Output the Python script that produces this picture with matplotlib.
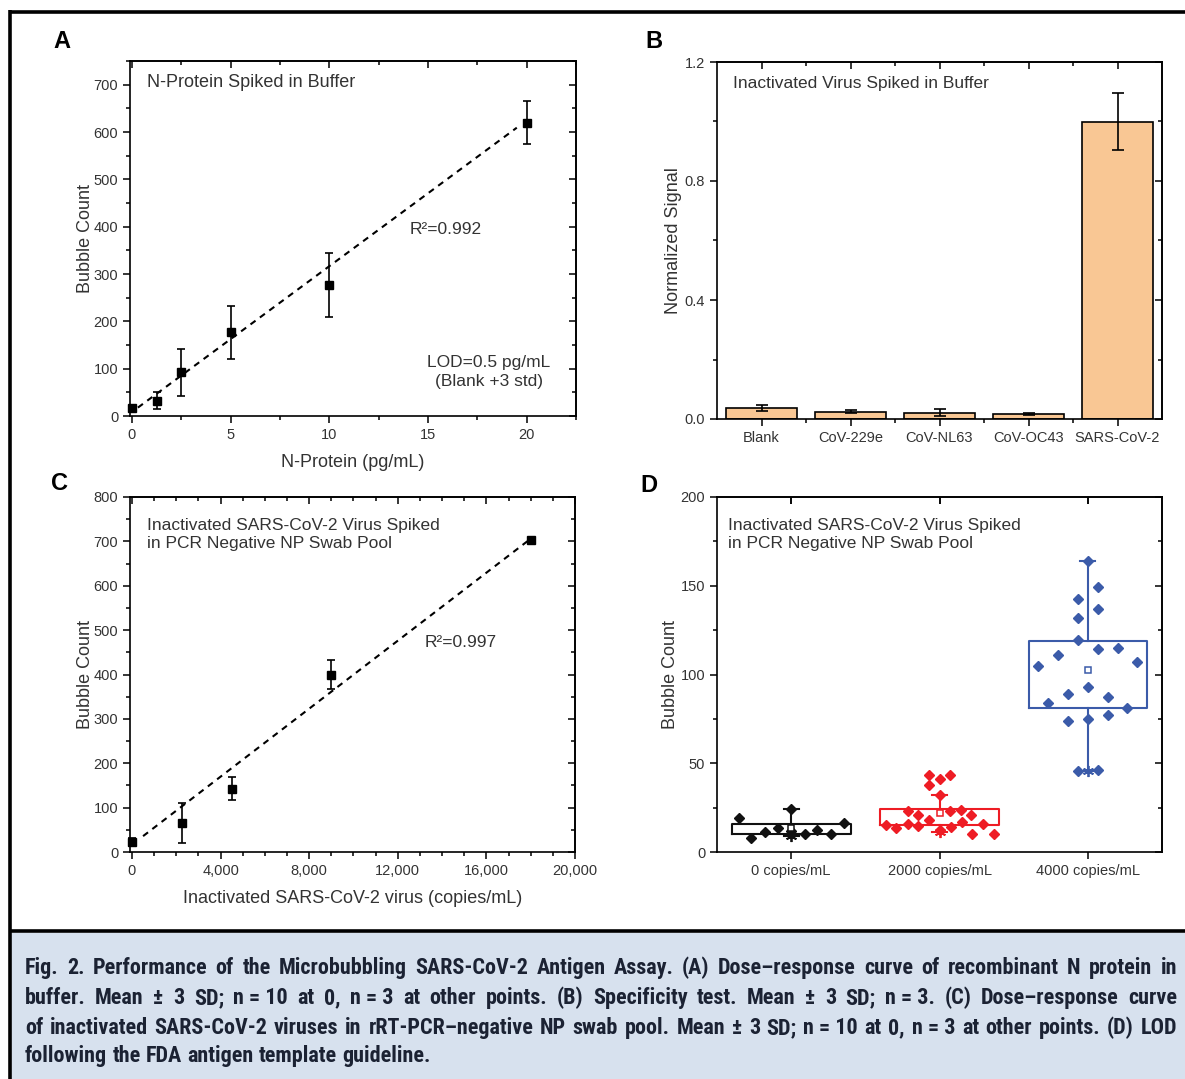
import matplotlib
matplotlib.use('Agg')
import matplotlib.pyplot as plt
import numpy as np
from matplotlib import font_manager
from matplotlib.ticker import MultipleLocator, FixedLocator, FuncFormatter
from matplotlib.patches import Rectangle
from matplotlib.lines import Line2D

W, H = 1185, 1079

# ---- panel A: N-protein in buffer
a_conc = [0, 1.25, 2.5, 5, 10, 20]
a_count = [16, 32.5, 92, 177, 277, 620]
a_err = [5, 18.5, 49.5, 56, 68, 44.5]
a_fit = [30.8, 8.5]          # slope, intercept of the dashed line

# ---- panel B: specificity
b_names = ['Blank', 'CoV-229e', 'CoV-NL63', 'CoV-OC43', 'SARS-CoV-2']
b_signal = [0.038, 0.025, 0.021, 0.017, 1.0]
b_err = [0.010, 0.005, 0.012, 0.003, 0.095]

# ---- panel C: virus in NP swab pool
c_conc = [0, 2250, 4500, 9000, 18000]
c_count = [23, 66, 143, 400, 702]
c_err = [9, 45, 25, 33, 6]
c_fit = [0.0383, 16.6]

# ---- panel D: LOD replicates
d_groups = ['0 copies/mL', '2000 copies/mL', '4000 copies/mL']
d_colors = ['#111111', '#ee1c24', '#3b5ba9']
d_values = [
    [19.4, 8.1, 11.3, 13.5, 24.4, 11.7, 10.0, 12.2, 10.0, 16.6],
    [43.2, 41.3, 43.2, 37.9, 31.9, 23.1, 21.0, 18.1, 23.0, 23.9, 21.0,
     15.3, 13.5, 15.8, 14.6, 12.2, 13.9, 16.7, 15.8, 10.1, 10.0],
    [164, 149.3, 142.8, 137.1, 131.8, 119.3, 114.2, 114.9, 110.8, 104.8, 107.1,
     93, 88.8, 84.2, 87.3, 81.3, 73.8, 75.1, 77.4, 45.5, 46.0],
]
d_jitter = [
    [-0.355, -0.27, -0.175, -0.09, 0, 0, 0.09, 0.175, 0.27, 0.355],
    [-0.07, 0, 0.07, -0.07, 0, -0.215, -0.145, -0.07, 0.07, 0.145, 0.215,
     -0.36, -0.29, -0.215, -0.145, 0, 0.075, 0.15, 0.29, 0.22, 0.365],
    [0, 0.068, -0.068, 0.068, -0.068, -0.068, 0.068, 0.2, -0.2, -0.333, 0.333,
     0, -0.133, -0.267, 0.133, 0.267, -0.133, 0, 0.133, -0.068, 0.068],
]
d_q1 = [10, 15, 81.3]
d_q3 = [16, 24, 119]
d_mean = [13.7, 22.2, 102.7]
d_wlo = [8.8, 11.3, 45.7]
d_whi = [24.4, 31.9, 164]

caption = [
    "Fig. 2. Performance of the Microbubbling SARS-CoV-2 Antigen Assay. (A) Dose\u2013response curve of recombinant N protein in",
    "buffer. Mean \u00b1 3 SD; n\u00a0=\u00a010 at 0, n\u00a0=\u00a03 at other points. (B) Specificity test. Mean \u00b1 3 SD; n\u00a0=\u00a03. (C) Dose\u2013response curve",
    "of inactivated SARS-CoV-2 viruses in rRT-PCR\u2013negative NP swab pool. Mean \u00b1 3 SD; n\u00a0=\u00a010 at 0, n\u00a0=\u00a03 at other points. (D) LOD",
    "following the FDA antigen template guideline.",
]

plt.rcParams['font.family'] = ['Liberation Sans', 'DejaVu Sans']
TXT = '#333333'


def first_font(names):
    for n in names:
        try:
            font_manager.findfont(font_manager.FontProperties(family=n), fallback_to_default=False)
            return n
        except Exception:
            pass
    return 'DejaVu Sans'


def box(x0, y0, x1, y1):
    return [x0 / W, 1 - y1 / H, (x1 - x0) / W, (y1 - y0) / H]


def fx(x):
    return x / W


def fy(y):
    return 1 - y / H


def style(ax, xmaj, xmin, ymaj, ymin):
    for s in ax.spines.values():
        s.set_linewidth(1.2)
    ax.xaxis.set_major_locator(xmaj)
    ax.yaxis.set_major_locator(ymaj)
    if xmin is not None:
        ax.xaxis.set_minor_locator(xmin)
    if ymin is not None:
        ax.yaxis.set_minor_locator(ymin)
    ax.tick_params(which='both', direction='out', labelsize=10.5, labelcolor=TXT, width=1.1)
    ax.tick_params(which='major', length=5)
    ax.tick_params(which='minor', length=3)
    # mirrored ticks pointing inward on top and right
    top = ax.secondary_xaxis('top')
    top.xaxis.set_major_locator(xmaj)
    if xmin is not None:
        top.xaxis.set_minor_locator(xmin)
    top.tick_params(which='both', direction='in', labeltop=False, width=1.1)
    top.tick_params(which='major', length=5)
    top.tick_params(which='minor', length=3)
    top.spines['top'].set_linewidth(1.2)
    right = ax.secondary_yaxis('right')
    right.yaxis.set_major_locator(ymaj)
    if ymin is not None:
        right.yaxis.set_minor_locator(ymin)
    right.tick_params(which='both', direction='in', labelright=False, width=1.1)
    right.tick_params(which='major', length=5)
    right.tick_params(which='minor', length=3)
    right.spines['right'].set_linewidth(1.2)


fig = plt.figure(figsize=(W / 100, H / 100), dpi=100)

# frame and caption background
fig.add_artist(Rectangle((fx(10), 0), 1, fy(933), transform=fig.transFigure,
                         facecolor='#d7e1ee', edgecolor='none', zorder=0))
for xs, ys in [([10, 1185], [11.5, 11.5]), ([10, 1185], [931, 931]), ([10, 10], [10, 1079])]:
    fig.add_artist(Line2D([fx(v) for v in xs], [fy(v) for v in ys], transform=fig.transFigure,
                          color='black', lw=2.6, solid_capstyle='butt'))

# panel letters
for letter, x, y in [('A', 62, 41), ('B', 654, 41), ('C', 59, 483), ('D', 649, 485)]:
    fig.text(fx(x), fy(y), letter, fontsize=17, fontweight='bold', ha='center', va='center')

# ---------------- A
ax = fig.add_axes(box(130, 61, 576, 416))
style(ax, MultipleLocator(5), MultipleLocator(2.5), MultipleLocator(100), MultipleLocator(50))
ax.set_xlim(-0.1, 22.5)
ax.set_ylim(0, 750)
xl = np.array([min(a_conc) + 0.3, max(a_conc) - 0.5])
ax.plot(xl, a_fit[0] * xl + a_fit[1], color='black', lw=1.5, ls=(0, (3, 2.6)), zorder=2)
ax.errorbar(a_conc, a_count, yerr=a_err, fmt='s', color='black', ms=6, capsize=3,
            elinewidth=1.2, capthick=1.2, zorder=3, clip_on=False)
ax.set_xlabel('N-Protein (pg/mL)', fontsize=13, color=TXT, labelpad=9)
ax.set_ylabel('Bubble Count', fontsize=13, color=TXT, labelpad=0)
ax.text(0.038, 0.94, 'N-Protein Spiked in Buffer', transform=ax.transAxes, fontsize=13,
        color=TXT, va='center', ha='left')
ax.text(0.627, 0.525, 'R\u00b2=0.992', transform=ax.transAxes, fontsize=12.5, color=TXT, va='center')
ax.text(0.805, 0.125, 'LOD=0.5 pg/mL\n(Blank +3 std)', transform=ax.transAxes, fontsize=12.5,
        color=TXT, va='center', ha='center', multialignment='center', linespacing=1.35)

# ---------------- B
ax = fig.add_axes(box(717, 62, 1162, 419))
xpos = np.arange(len(b_names))
style(ax, FixedLocator(xpos), FixedLocator(xpos[:-1] + 0.5), MultipleLocator(0.4), MultipleLocator(0.2))
ax.bar(xpos, b_signal, width=0.8, color='#f9c794', edgecolor='black', linewidth=1.2, zorder=2)
ax.errorbar(xpos, b_signal, yerr=b_err, fmt='none', ecolor='black', capsize=4,
            elinewidth=1.2, capthick=1.2, zorder=3)
ax.set_xlim(-0.5, 4.5)
ax.set_ylim(0, 1.2)
ax.set_xticks(xpos)
ax.set_xticklabels(b_names, fontsize=10.5)
ax.yaxis.set_major_formatter(FuncFormatter(lambda v, p: '%.1f' % v))
ax.set_ylabel('Normalized Signal', fontsize=13, color=TXT, labelpad=2)
ax.text(0.035, 0.94, 'Inactivated Virus Spiked in Buffer', transform=ax.transAxes, fontsize=12.5,
        color=TXT, va='center', ha='left')

# ---------------- C
ax = fig.add_axes(box(130, 497, 575, 852))
style(ax, MultipleLocator(4000), MultipleLocator(1000), MultipleLocator(100), MultipleLocator(50))
ax.set_xlim(-90, 20000)
ax.set_ylim(0, 800)
ax.xaxis.set_major_formatter(FuncFormatter(lambda v, p: '{:,.0f}'.format(v)))
xl = np.array([min(c_conc) + 500, max(c_conc) - 150])
ax.plot(xl, c_fit[0] * xl + c_fit[1], color='black', lw=1.5, ls=(0, (3, 2.6)), zorder=2)
ax.errorbar(c_conc, c_count, yerr=c_err, fmt='s', color='black', ms=6, capsize=3,
            elinewidth=1.2, capthick=1.2, zorder=3, clip_on=False)
ax.set_xlabel('Inactivated SARS-CoV-2 virus (copies/mL)', fontsize=13, color=TXT, labelpad=9)
ax.set_ylabel('Bubble Count', fontsize=13, color=TXT, labelpad=0)
ax.text(0.038, 0.94, 'Inactivated SARS-CoV-2 Virus Spiked\nin PCR Negative NP Swab Pool',
        transform=ax.transAxes, fontsize=12.5, color=TXT, va='top', ha='left', linespacing=1.25)
ax.text(0.661, 0.59, 'R\u00b2=0.997', transform=ax.transAxes, fontsize=12.5, color=TXT, va='center')

# ---------------- D
ax = fig.add_axes(box(717, 497, 1162, 852))
gpos = np.arange(len(d_groups))
style(ax, FixedLocator(gpos), None, MultipleLocator(50), MultipleLocator(25))
ax.set_xlim(-0.5, 2.5)
ax.set_ylim(0, 200)
for i, c in enumerate(d_colors):
    st = dict(q1=d_q1[i], q3=d_q3[i], med=d_q1[i], mean=d_mean[i],
              whislo=d_wlo[i], whishi=d_whi[i], fliers=[])
    ax.bxp([st], positions=[gpos[i]], widths=0.8, capwidths=0.1, showmeans=True, showfliers=False,
           boxprops=dict(color=c, lw=1.5), whiskerprops=dict(color=c, lw=1.5),
           capprops=dict(color=c, lw=1.5), medianprops=dict(lw=0),
           meanprops=dict(marker='s', markerfacecolor='white', markeredgecolor=c,
                          markersize=4, markeredgewidth=1.1, zorder=5))
    ax.plot(gpos[i] + np.array(d_jitter[i]), d_values[i], 'D', color=c, ms=5.2, zorder=3,
            linestyle='none')
    ax.plot([gpos[i]], [d_wlo[i]], marker=(6, 2, 0), color=c, ms=8, mew=1.3, zorder=4)
ax.set_xticks(gpos)
ax.set_xticklabels(d_groups, fontsize=10.5)
ax.set_ylabel('Bubble Count', fontsize=13, color=TXT, labelpad=1)
ax.text(0.025, 0.94, 'Inactivated SARS-CoV-2 Virus Spiked\nin PCR Negative NP Swab Pool',
        transform=ax.transAxes, fontsize=12.5, color=TXT, va='top', ha='left', linespacing=1.25)

# ---------------- caption, justified word by word
cap_font = first_font(['Liberation Sans Narrow', 'Roboto Condensed', 'Open Sans Condensed',
                       'Liberation Sans'])
renderer = fig.canvas.get_renderer()
x0, x1 = 25, 1177
baselines = [974, 1004, 1034, 1062]


def measure(words, size):
    ts = [fig.text(0, 0, w, fontsize=size, family=[cap_font, 'DejaVu Sans'], fontweight='bold')
          for w in words]
    ws = [t.get_window_extent(renderer).width for t in ts]
    for t in ts:
        t.remove()
    return ws


space_ws = measure(['a b', 'ab'], 10)
sp10 = space_ws[0] - space_ws[1]
nat = max(sum(measure(l.split(' '), 10)) + sp10 * (len(l.split(' ')) - 1) for l in caption[:3])
size = min(17.0, 10 * (x1 - x0) * 0.975 / nat)

for k, line in enumerate(caption):
    words = line.split(' ')
    ts = [fig.text(0, fy(baselines[k]), w, fontsize=size, family=[cap_font, 'DejaVu Sans'],
                   fontweight='bold', color='#1b2233', va='baseline', ha='left') for w in words]
    ws = [t.get_window_extent(renderer).width for t in ts]
    if k < 3:
        gap = (x1 - x0 - sum(ws)) / (len(words) - 1)
    else:
        gap = sp10 * size / 10
    x = x0
    for t, w in zip(ts, ws):
        t.set_x(fx(x))
        x += w + gap

fig.savefig('out.png', dpi=100)
